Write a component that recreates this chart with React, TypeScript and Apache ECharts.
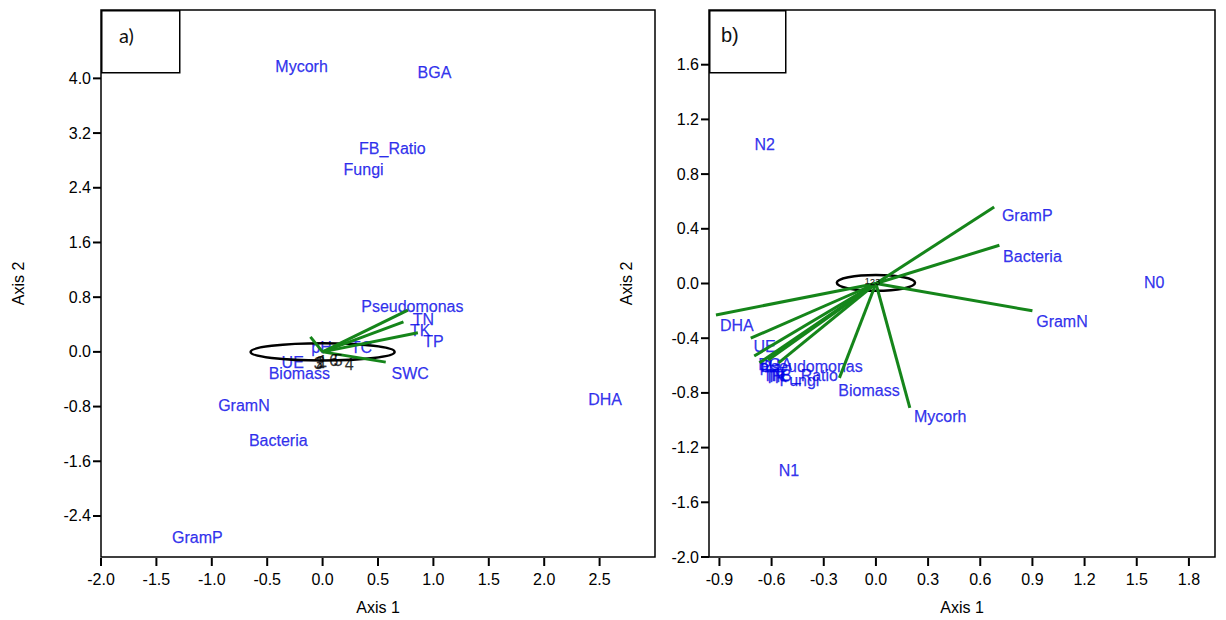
import React, { useEffect, useRef } from "react";
import * as echarts from "echarts";

// ---------- Panel a) ----------
const aNames = ["Mycorh", "BGA", "FB_Ratio", "Fungi", "Pseudomonas", "TN", "TK", "TP", "TC", "pH", "UE", "Biomass", "SWC", "GramN", "Bacteria", "GramP", "DHA"];
const aX = [-0.19, 1.01, 0.63, 0.37, 0.81, 0.91, 0.88, 1.0, 0.35, -0.01, -0.27, -0.21, 0.79, -0.71, -0.4, -1.13, 2.55];
const aY = [4.18, 4.09, 2.97, 2.66, 0.66, 0.47, 0.31, 0.15, 0.06, 0.07, -0.16, -0.31, -0.31, -0.79, -1.3, -2.72, -0.7];

const aVecX = [0.77, 0.73, 0.86, 0.57, -0.11];
const aVecY = [0.61, 0.44, 0.28, -0.15, 0.22];

const aSites = ["3", "2", "1", "6", "5", "4"];
const aSiteX = [-0.04, -0.02, 0.0, 0.1, 0.14, 0.24];
const aSiteY = [-0.17, -0.15, -0.14, -0.13, -0.13, -0.18];

const aEllipse = [0.0, 0.0, 0.65, 0.125];

const aXRange = [-2.0, 3.0];
const aYRange = [-3.0, 5.0];
const aXTicks = [-2.0, -1.5, -1.0, -0.5, 0.0, 0.5, 1.0, 1.5, 2.0, 2.5];
const aYTicks = [-2.4, -1.6, -0.8, 0.0, 0.8, 1.6, 2.4, 3.2, 4.0];

// ---------- Panel b) ----------
const bNames = ["N2", "GramP", "Bacteria", "N0", "GramN", "DHA", "UE", "BGA", "pH", "Pseudomonas", "TP", "TK", "TN", "FB_Ratio", "Fungi", "Biomass", "Mycorh", "N1"];
const bX = [-0.64, 0.87, 0.9, 1.6, 1.07, -0.8, -0.64, -0.58, -0.61, -0.37, -0.58, -0.57, -0.59, -0.41, -0.44, -0.04, 0.37, -0.5];
const bY = [1.02, 0.5, 0.2, 0.01, -0.28, -0.31, -0.46, -0.59, -0.61, -0.61, -0.69, -0.68, -0.67, -0.67, -0.71, -0.78, -0.97, -1.37];

const bVecX = [0.68, 0.71, 0.9, -0.92, -0.72, -0.7, -0.67, -0.62, -0.56, -0.21, 0.195];
const bVecY = [0.56, 0.28, -0.2, -0.23, -0.4, -0.53, -0.58, -0.56, -0.58, -0.69, -0.91];

const bSites = ["1", "2", "3"];
const bSiteX = [-0.05, -0.02, 0.01];
const bSiteY = [0.02, 0.01, 0.01];

const bEllipse = [0.0, 0.005, 0.225, 0.058];

const bXRange = [-0.96, 1.95];
const bYRange = [-2.0, 2.0];
const bXTicks = [-0.9, -0.6, -0.3, 0.0, 0.3, 0.6, 0.9, 1.2, 1.5, 1.8];
const bYTicks = [-2.0, -1.6, -1.2, -0.8, -0.4, 0.0, 0.4, 0.8, 1.2, 1.6];

const FONT = "Liberation Sans, Arial, sans-serif";
const BLUE = "#0000e8";
const GREEN = "#15851a";

function makeAxis(gi: number, range: number[], ticks: number[], name: string, isY: boolean) {
  return {
    gridIndex: gi,
    type: "value",
    min: range[0],
    max: range[1],
    axisLine: { show: false, onZero: false },
    axisTick: { show: false },
    axisLabel: {
      customValues: ticks,
      formatter: (v: number) => v.toFixed(1),
      fontSize: 16,
      color: "#000",
      fontFamily: FONT,
      margin: isY ? 10 : 14,
    },
    splitLine: { show: false },
    name,
    nameLocation: "middle",
    nameGap: isY ? 75 : 42,
    nameTextStyle: { fontSize: 16, color: "#000", fontFamily: FONT },
  };
}

function labelSeries(gi: number, names: string[], xs: number[], ys: number[], color: string, z: number, fs: number) {
  return {
    type: "scatter",
    xAxisIndex: gi,
    yAxisIndex: gi,
    symbolSize: 1,
    itemStyle: { color: "rgba(0,0,0,0)" },
    z,
    data: names.map((n, i) => ({ name: n, value: [xs[i], ys[i]] })),
    label: {
      show: true,
      position: "inside",
      formatter: (p: any) => p.name,
      color,
      fontSize: fs,
      fontFamily: FONT,
      textBorderColor: color,
      textBorderWidth: 0.25,
    },
    silent: true,
  };
}

function vecSeries(gi: number, xs: number[], ys: number[]) {
  return {
    type: "lines",
    coordinateSystem: "cartesian2d",
    xAxisIndex: gi,
    yAxisIndex: gi,
    z: 3,
    lineStyle: { color: GREEN, width: 3, opacity: 1 },
    data: xs.map((x, i) => ({ coords: [[0, 0], [x, ys[i]]] })),
    silent: true,
  };
}

function ellipseSeries(gi: number, e: number[]) {
  return {
    type: "custom",
    xAxisIndex: gi,
    yAxisIndex: gi,
    z: 2,
    encode: { x: 0, y: 1 },
    data: [e],
    renderItem: (_p: any, api: any) => {
      const c = api.coord([api.value(0), api.value(1)]);
      const s = api.size([api.value(2), api.value(3)]);
      return {
        type: "ellipse",
        shape: { cx: c[0], cy: c[1], rx: s[0], ry: s[1] },
        style: { fill: "none", stroke: "#000", lineWidth: 2.5 },
      };
    },
    silent: true,
  };
}

export default function App() {
  const ref = useRef<HTMLDivElement>(null);
  useEffect(() => {
    if (!ref.current) return;
    const chart = echarts.init(ref.current, null, { renderer: "svg" });
    chart.setOption({
      animation: false,
      backgroundColor: "#fff",
      grid: [
        { left: 101, top: 10, width: 554, height: 547, show: true, borderColor: "#000", borderWidth: 1.5 },
        { left: 709, top: 10, width: 506, height: 547, show: true, borderColor: "#000", borderWidth: 1.5 },
      ],
      xAxis: [
        makeAxis(0, aXRange, aXTicks, "Axis 1", false),
        makeAxis(1, bXRange, bXTicks, "Axis 1", false),
      ],
      yAxis: [
        makeAxis(0, aYRange, aYTicks, "Axis 2", true),
        makeAxis(1, bYRange, bYTicks, "Axis 2", true),
      ],
      series: [
        labelSeries(0, aNames, aX, aY, BLUE, 1, 16),
        ellipseSeries(0, aEllipse),
        vecSeries(0, aVecX, aVecY),
        labelSeries(0, aSites, aSiteX, aSiteY, "#000", 4, 16),
        labelSeries(1, bNames, bX, bY, BLUE, 1, 16),
        ellipseSeries(1, bEllipse),
        vecSeries(1, bVecX, bVecY),
        labelSeries(1, bSites, bSiteX, bSiteY, "#000", 4, 9),
      ],
    });

    // tick marks, positioned through the axes' own scales
    const ticks: any[] = [];
    const addTicks = (gi: number, xt: number[], yt: number[], xr: number[], yr: number[]) => {
      xt.forEach((v) => {
        const p = chart.convertToPixel({ gridIndex: gi }, [v, yr[0]]) as number[];
        ticks.push({ type: "line", shape: { x1: p[0], y1: p[1] + 1, x2: p[0], y2: p[1] + 9 }, style: { stroke: "#000", lineWidth: 2 }, z: 5, silent: true });
      });
      yt.forEach((v) => {
        const p = chart.convertToPixel({ gridIndex: gi }, [xr[0], v]) as number[];
        ticks.push({ type: "line", shape: { x1: p[0] - 8, y1: p[1], x2: p[0], y2: p[1] }, style: { stroke: "#000", lineWidth: 2 }, z: 5, silent: true });
      });
    };
    addTicks(0, aXTicks, aYTicks, aXRange, aYRange);
    addTicks(1, bXTicks, bYTicks, bXRange, bYRange);

    chart.setOption({
      graphic: [
        ...ticks,
        { type: "rect", left: 101, top: 10, shape: { width: 78, height: 62 }, style: { fill: "#fff", stroke: "#000", lineWidth: 1.5 }, z: 10 },
        { type: "text", left: 119, top: 25, style: { text: "a)", fontSize: 20, fontFamily: "Lato, Open Sans, sans-serif", fill: "#111" }, z: 11 },
        { type: "rect", left: 709, top: 10, shape: { width: 76, height: 62 }, style: { fill: "#fff", stroke: "#000", lineWidth: 1.5 }, z: 10 },
        { type: "text", left: 721, top: 25, style: { text: "b)", fontSize: 20, fontFamily: "Liberation Sans, Arial, sans-serif", fill: "#111" }, z: 11 },
      ],
    });
    return () => chart.dispose();
  }, []);
  return <div ref={ref} style={{ position: "fixed", left: 0, top: 0, width: 1226, height: 620 }} />;
}
